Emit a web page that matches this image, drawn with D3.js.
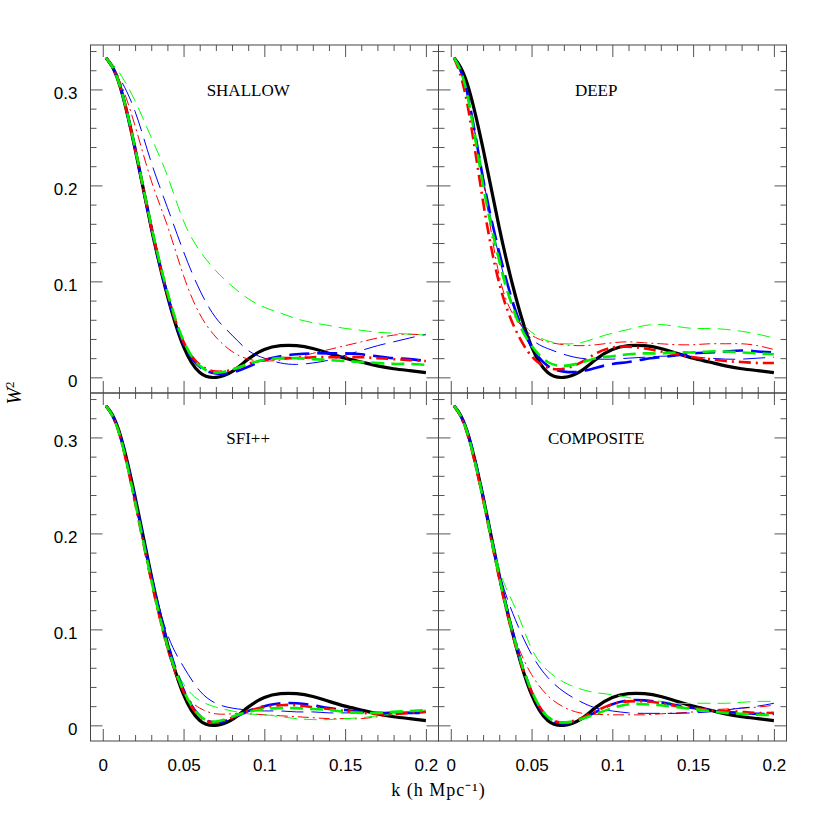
<html>
<head>
<style>
  body { margin: 0; background: #fff; }
  svg { display: block; }
</style>
<script src="https://d3js.org/d3.v7.min.js"></script>
</head>
<body>
<svg width="830" height="830"></svg>
<script>

// wavenumbers sampled for every curve (h/Mpc)
const kGrid = [0.002, 0.01, 0.02, 0.03, 0.04, 0.05, 0.06, 0.07, 0.08, 0.09, 0.10,
               0.11, 0.12, 0.13, 0.14, 0.15, 0.16, 0.17, 0.18, 0.19, 0.20];

// ideal window, same in all four panels
const ideal = [0.333, 0.307, 0.238, 0.156, 0.085, 0.032, 0.005, 0.000, 0.006, 0.019, 0.029,
               0.033, 0.033, 0.030, 0.025, 0.020, 0.016, 0.012, 0.009, 0.007, 0.005];

// SHALLOW
const shallowRedThin    = [0.333, 0.311, 0.262, 0.205, 0.158, 0.106, 0.066, 0.042, 0.027, 0.019, 0.017, 0.018, 0.021, 0.025, 0.029, 0.033, 0.037, 0.041, 0.044, 0.045, 0.044];
const shallowBlueThin   = [0.333, 0.313, 0.277, 0.224, 0.177, 0.131, 0.091, 0.062, 0.044, 0.028, 0.020, 0.015, 0.0135, 0.015, 0.018, 0.023, 0.028, 0.033, 0.037, 0.041, 0.045];
const shallowGreenThin  = [0.333, 0.318, 0.288, 0.250, 0.210, 0.163, 0.132, 0.111, 0.095, 0.082, 0.073, 0.067, 0.061, 0.057, 0.054, 0.051, 0.049, 0.047, 0.046, 0.045, 0.044];
const shallowBlueThick  = [0.333, 0.307, 0.238, 0.156, 0.086, 0.035, 0.011, 0.004, 0.005, 0.011, 0.018, 0.022, 0.024, 0.025, 0.025, 0.025, 0.024, 0.022, 0.020, 0.019, 0.017];
const shallowRedThick   = [0.333, 0.307, 0.238, 0.157, 0.087, 0.037, 0.013, 0.006, 0.008, 0.014, 0.018, 0.020, 0.020, 0.021, 0.021, 0.021, 0.021, 0.020, 0.019, 0.018, 0.017];
const shallowGreenThick = [0.333, 0.307, 0.239, 0.158, 0.089, 0.038, 0.012, 0.005, 0.008, 0.014, 0.018, 0.020, 0.020, 0.019, 0.018, 0.017, 0.016, 0.015, 0.014, 0.014, 0.013];

// DEEP
const deepRedThin    = [0.333, 0.295, 0.205, 0.106, 0.062, 0.044, 0.037, 0.034, 0.033, 0.034, 0.036, 0.037, 0.036, 0.035, 0.034, 0.034, 0.035, 0.035, 0.035, 0.033, 0.029];
const deepBlueThin   = [0.333, 0.297, 0.208, 0.125, 0.068, 0.040, 0.030, 0.024, 0.020, 0.019, 0.019, 0.020, 0.021, 0.022, 0.022, 0.021, 0.020, 0.019, 0.019, 0.020, 0.021];
const deepGreenThin  = [0.333, 0.298, 0.210, 0.118, 0.068, 0.047, 0.038, 0.035, 0.036, 0.041, 0.046, 0.050, 0.054, 0.055, 0.053, 0.051, 0.051, 0.050, 0.048, 0.045, 0.041];
const deepBlueThick  = [0.333, 0.298, 0.207, 0.130, 0.070, 0.032, 0.012, 0.006, 0.006, 0.010, 0.014, 0.016, 0.019, 0.021, 0.023, 0.025, 0.026, 0.027, 0.028, 0.027, 0.026];
const deepRedThick   = [0.333, 0.287, 0.183, 0.098, 0.050, 0.022, 0.010, 0.009, 0.015, 0.025, 0.031, 0.032, 0.030, 0.027, 0.024, 0.021, 0.019, 0.017, 0.016, 0.015, 0.015];
const deepGreenThick = [0.333, 0.296, 0.200, 0.122, 0.065, 0.033, 0.016, 0.012, 0.015, 0.020, 0.022, 0.024, 0.025, 0.025, 0.026, 0.026, 0.027, 0.027, 0.026, 0.025, 0.024];

// SFI++
const sfiRedThin    = [0.333, 0.303, 0.230, 0.148, 0.078, 0.035, 0.018, 0.012, 0.012, 0.012, 0.011, 0.010, 0.009, 0.008, 0.007, 0.007, 0.007, 0.009, 0.011, 0.013, 0.014];
const sfiBlueThin   = [0.333, 0.307, 0.237, 0.157, 0.095, 0.061, 0.036, 0.023, 0.018, 0.016, 0.015, 0.015, 0.014, 0.014, 0.013, 0.013, 0.013, 0.013, 0.013, 0.013, 0.013];
const sfiGreenThin  = [0.333, 0.305, 0.233, 0.152, 0.083, 0.043, 0.026, 0.019, 0.015, 0.012, 0.011, 0.009, 0.007, 0.006, 0.006, 0.007, 0.008, 0.010, 0.012, 0.014, 0.016];
const sfiBlueThick  = [0.333, 0.306, 0.236, 0.156, 0.087, 0.037, 0.010, 0.003, 0.007, 0.015, 0.020, 0.023, 0.023, 0.021, 0.018, 0.016, 0.014, 0.013, 0.013, 0.013, 0.013];
const sfiRedThick   = [0.333, 0.305, 0.232, 0.151, 0.082, 0.035, 0.009, 0.003, 0.008, 0.015, 0.019, 0.021, 0.021, 0.019, 0.017, 0.015, 0.013, 0.012, 0.012, 0.013, 0.014];
const sfiGreenThick = [0.333, 0.305, 0.233, 0.152, 0.083, 0.036, 0.010, 0.004, 0.009, 0.014, 0.017, 0.018, 0.018, 0.017, 0.016, 0.014, 0.013, 0.013, 0.014, 0.015, 0.016];

// COMPOSITE
const compRedThin    = [0.333, 0.305, 0.234, 0.152, 0.090, 0.053, 0.031, 0.019, 0.013, 0.0115, 0.011, 0.011, 0.011, 0.012, 0.013, 0.014, 0.016, 0.017, 0.018, 0.019, 0.021];
const compBlueThin   = [0.333, 0.307, 0.238, 0.160, 0.110, 0.074, 0.050, 0.035, 0.025, 0.018, 0.015, 0.013, 0.0125, 0.0125, 0.0125, 0.013, 0.014, 0.016, 0.018, 0.020, 0.023];
const compGreenThin  = [0.333, 0.307, 0.239, 0.163, 0.122, 0.080, 0.057, 0.045, 0.038, 0.034, 0.032, 0.029, 0.026, 0.025, 0.023, 0.023, 0.023, 0.023, 0.024, 0.025, 0.025];
const compBlueThick  = [0.333, 0.307, 0.238, 0.156, 0.087, 0.035, 0.008, 0.002, 0.006, 0.014, 0.022, 0.026, 0.026, 0.024, 0.021, 0.018, 0.016, 0.014, 0.013, 0.012, 0.012];
const compRedThick   = [0.333, 0.305, 0.235, 0.153, 0.084, 0.035, 0.009, 0.003, 0.007, 0.015, 0.022, 0.025, 0.025, 0.023, 0.020, 0.018, 0.016, 0.015, 0.014, 0.013, 0.013];
const compGreenThick = [0.333, 0.306, 0.236, 0.155, 0.086, 0.036, 0.009, 0.003, 0.006, 0.012, 0.018, 0.022, 0.022, 0.021, 0.019, 0.017, 0.015, 0.013, 0.012, 0.011, 0.011];

const panelNames = ["SHALLOW", "DEEP", "SFI++", "COMPOSITE"];
const xTickLabels = [0, 0.05, 0.1, 0.15, 0.2];
const yTickLabels = [0, 0.1, 0.2, 0.3];

// line styles for the six estimates
const styles = {
  redThin:    { color: "#ff0000", width: 1,   dash: "11,4,2,4" },
  blueThin:   { color: "#0000ff", width: 1,   dash: "22,8" },
  greenThin:  { color: "#00ff00", width: 1,   dash: "13,7" },
  blueThick:  { color: "#0000ff", width: 2.6, dash: "20,8" },
  redThick:   { color: "#ff0000", width: 2.6, dash: "12,5,2,5" },
  greenThick: { color: "#00ee00", width: 2.6, dash: "13,7" }
};

const panels = [
  { name: panelNames[0], col: 0, row: 0, series: { redThin: shallowRedThin, blueThin: shallowBlueThin, greenThin: shallowGreenThin, blueThick: shallowBlueThick, redThick: shallowRedThick, greenThick: shallowGreenThick } },
  { name: panelNames[1], col: 1, row: 0, series: { redThin: deepRedThin, blueThin: deepBlueThin, greenThin: deepGreenThin, blueThick: deepBlueThick, redThick: deepRedThick, greenThick: deepGreenThick } },
  { name: panelNames[2], col: 0, row: 1, series: { redThin: sfiRedThin, blueThin: sfiBlueThin, greenThin: sfiGreenThin, blueThick: sfiBlueThick, redThick: sfiRedThick, greenThick: sfiGreenThick } },
  { name: panelNames[3], col: 1, row: 1, series: { redThin: compRedThin, blueThin: compBlueThin, greenThin: compGreenThin, blueThick: compBlueThick, redThick: compRedThick, greenThick: compGreenThick } }
];

const marginLeft = 90.5, marginTop = 45, size = 348;

const x = d3.scaleLinear().domain([-0.0076, 0.2078]).range([0, size]);
const y = d3.scaleLinear().domain([-0.0163, 0.3463]).range([size, 0]);

const line = d3.line()
  .x((d, i) => x(kGrid[i]))
  .y(d => y(d))
  .curve(d3.curveNatural);

const svg = d3.select("svg");
svg.append("rect").attr("width", 830).attr("height", 830).attr("fill", "#fff");

const xMinor = d3.range(0, 0.2001, 0.01);
const yMinor = d3.range(0, 0.341, 0.02);

function ticks(g, axisFn, scale, vals, len) {
  g.call(axisFn(scale).tickValues(vals).tickSize(-len).tickFormat(""))
    .call(g => g.select(".domain").remove())
    .call(g => g.selectAll("line").attr("stroke", "#555"));
}

panels.forEach(p => {
  const g = svg.append("g")
    .attr("transform", `translate(${marginLeft + p.col * size},${marginTop + p.row * size})`);

  // inward ticks on all four sides
  [[d3.axisBottom, x, xMinor, `translate(0,${size})`],
   [d3.axisTop, x, xMinor, "translate(0,0)"],
   [d3.axisLeft, y, yMinor, "translate(0,0)"],
   [d3.axisRight, y, yMinor, `translate(${size},0)`]].forEach(([fn, sc, minor, tr]) => {
    const major = sc === x ? xTickLabels : yTickLabels;
    g.append("g").attr("transform", tr).call(ticks, fn, sc, minor.filter(v => !major.some(m => Math.abs(m - v) < 1e-9)), 6);
    g.append("g").attr("transform", tr).call(ticks, fn, sc, major, 12);
  });

  g.append("rect")
    .attr("width", size).attr("height", size)
    .attr("fill", "none").attr("stroke", "#444").attr("stroke-width", 1);

  if (p.col === 0) {
    g.append("g")
      .call(d3.axisLeft(y).tickValues(yTickLabels).tickSize(0).tickPadding(13).tickFormat(d3.format("~g")))
      .call(g => g.select(".domain").remove())
      .call(g => g.selectAll("text")
        .attr("dy", "0.55em")
        .attr("font-size", 17)
        .attr("font-family", "Liberation Sans, Arial, sans-serif")
        .attr("fill", "#000"));
  }
  if (p.row === 1) {
    g.append("g")
      .attr("transform", `translate(0,${size})`)
      .call(d3.axisBottom(x).tickValues(xTickLabels).tickSize(0).tickPadding(18).tickFormat(d3.format("~g")))
      .call(g => g.select(".domain").remove())
      .call(g => g.selectAll("text")
        .attr("font-size", 17)
        .attr("font-family", "Liberation Sans, Arial, sans-serif")
        .attr("fill", "#000"));
  }

  const plot = g.append("g");

  plot.append("path")
    .attr("d", line(ideal))
    .attr("fill", "none")
    .attr("stroke", "#000")
    .attr("stroke-width", 3.2);

  Object.keys(styles).forEach(key => {
    const s = styles[key];
    plot.append("path")
      .attr("d", line(p.series[key]))
      .attr("fill", "none")
      .attr("stroke", s.color)
      .attr("stroke-width", s.width)
      .attr("stroke-dasharray", s.dash);
  });

  g.append("text")
    .attr("x", x(0.09))
    .attr("y", y(0.293))
    .attr("text-anchor", "middle")
    .attr("font-family", "Liberation Serif, Times New Roman, serif")
    .attr("font-size", 17)
    .text(p.name);
});

// axis titles
svg.append("text")
  .attr("x", marginLeft + size)
  .attr("y", 796)
  .attr("text-anchor", "middle")
  .attr("font-family", "Liberation Serif, Times New Roman, serif")
  .attr("font-size", 18)
  .attr("letter-spacing", 1)
  .text("k (h Mpc\u207B\u00B9)");

svg.append("text")
  .attr("transform", `translate(21,${marginTop + size}) rotate(-90)`)
  .attr("text-anchor", "middle")
  .attr("font-family", "Liberation Serif, Times New Roman, serif")
  .attr("font-size", 20)
  .call(t => t.append("tspan").attr("font-style", "italic").text("W"))
  .call(t => t.append("tspan").attr("font-size", 13).attr("dy", -7).text("2"));

</script>
</body>
</html>
